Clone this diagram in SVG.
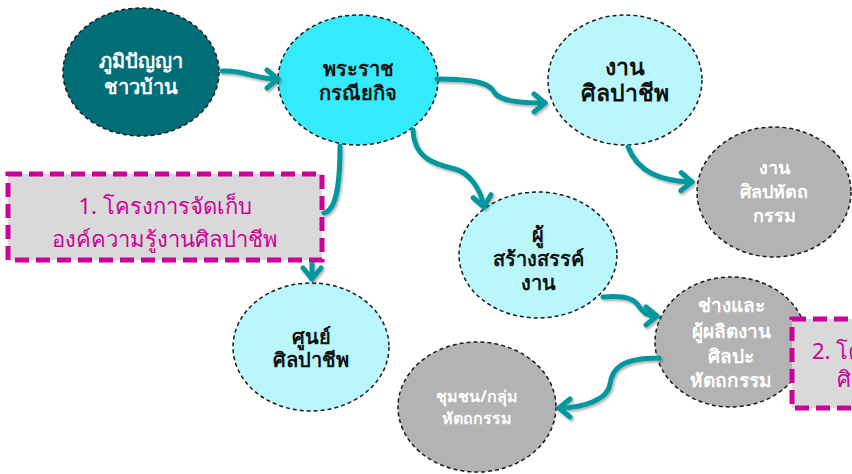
<svg xmlns="http://www.w3.org/2000/svg" width="852" height="474" viewBox="0 0 852 474">
<style>
.node{stroke:#1a1a1a;stroke-width:1.5;stroke-dasharray:4 3}
.t{font-family:"Noto Sans","Noto Sans CJK SC","DejaVu Sans",sans-serif;text-anchor:middle;dominant-baseline:central}
.b{font-weight:bold}
.w{fill:#ffffff}
.k{fill:#111111}
.m{fill:#cc0099}
.box{fill:#d9d9d9;stroke:#cc0099;stroke-width:5;stroke-dasharray:14 7}
.c{fill:none;stroke:#00979f;stroke-width:5;stroke-linecap:round}
</style>
<defs>
<filter id="sh" x="-20%" y="-20%" width="140%" height="140%">
<feDropShadow dx="1.5" dy="2" stdDeviation="1.2" flood-color="#000" flood-opacity="0.3"/>
</filter>
<marker id="ah" markerUnits="userSpaceOnUse" viewBox="-14 -12 18 24" refX="0" refY="0" markerWidth="18" markerHeight="24" orient="auto">
<path d="M-11,-9 L0,0 L-11,9" fill="none" stroke="#00979f" stroke-width="5" stroke-linecap="round" stroke-linejoin="round"/>
</marker>
</defs>
<rect width="852" height="474" fill="#ffffff"/>
<g id="n1"><ellipse class="node" cx="141" cy="72" rx="78" ry="64" fill="#006d77"/>
<text class="t b w" x="141" y="60" font-size="20">ภูมิปัญญา</text>
<text class="t b w" x="141" y="86" font-size="20">ชาวบ้าน</text></g>
<g id="n2"><ellipse class="node" cx="358" cy="80" rx="80" ry="65" fill="#33ebfb"/>
<text class="t b k" x="358" y="68" font-size="20">พระราช</text>
<text class="t b k" x="358" y="92" font-size="20">กรณียกิจ</text></g>
<g id="n3"><ellipse class="node" cx="625" cy="80" rx="77" ry="65" fill="#b9f7fc"/>
<text class="t b k" x="625" y="66" font-size="23">งาน</text>
<text class="t b k" x="625" y="92" font-size="23">ศิลปาชีพ</text></g>
<g id="n4"><ellipse class="node" cx="774" cy="192" rx="77" ry="65" fill="#b3b3b3"/>
<text class="t b w" x="774" y="167" font-size="18">งาน</text>
<text class="t b w" x="774" y="191" font-size="18">ศิลปหัตถ</text>
<text class="t b w" x="774" y="215" font-size="18">กรรม</text></g>
<g id="n5"><ellipse class="node" cx="538" cy="255" rx="79" ry="63" fill="#b9f7fc"/>
<text class="t b k" x="538" y="234" font-size="20">ผู้</text>
<text class="t b k" x="538" y="258" font-size="20">สร้างสรรค์</text>
<text class="t b k" x="538" y="282" font-size="20">งาน</text></g>
<g id="n6"><ellipse class="node" cx="311" cy="347" rx="78" ry="64" fill="#b9f7fc"/>
<text class="t b k" x="311" y="336" font-size="20">ศูนย์</text>
<text class="t b k" x="311" y="359" font-size="20">ศิลปาชีพ</text></g>
<g id="n7"><ellipse class="node" cx="731" cy="342" rx="76" ry="65" fill="#b3b3b3"/>
<text class="t b w" x="731" y="305" font-size="19">ช่างและ</text>
<text class="t b w" x="731" y="331" font-size="19">ผู้ผลิตงาน</text>
<text class="t b w" x="731" y="356" font-size="19">ศิลปะ</text>
<text class="t b w" x="731" y="380" font-size="19">หัตถกรรม</text></g>
<g id="n8"><ellipse class="node" cx="477" cy="407" rx="79" ry="65" fill="#b3b3b3"/>
<text class="t b w" x="477" y="396" font-size="16">ชุมชน/กลุ่ม</text>
<text class="t b w" x="477" y="418" font-size="16">หัตถกรรม</text></g>
<g id="box1"><rect class="box" x="8" y="174" width="314" height="86"/>
<text class="t m" x="165" y="205" font-size="22">1. โครงการจัดเก็บ</text>
<text class="t m" x="165" y="238" font-size="22">องค์ความรู้งานศิลปาชีพ</text></g>
<g id="box2"><rect class="box" x="792" y="319" width="90" height="89"/>
<text class="t m" x="812" y="350" font-size="22" style="text-anchor:start">2. โครงการ</text>
<text class="t m" x="837" y="378" font-size="22" style="text-anchor:start">ศิลปาชีพ</text></g>
<g id="connectors" filter="url(#sh)">
<path class="c" d="M222,71 C248,70 252,79 278,79" marker-end="url(#ah)"/>
<path class="c" d="M437,79 C478,79 490,84 494,92 C499,101 520,103 545,103" marker-end="url(#ah)"/>
<path class="c" d="M628,147 C638,172 660,181 692,182" marker-end="url(#ah)"/>
<path class="c" d="M413,130 C414,160 438,165 455,169 C470,173 481,190 484,207" marker-end="url(#ah)"/>
<path class="c" d="M340,146 C340,186 336,210 324,213"/>
<path class="c" d="M312,264 L312,279" marker-end="url(#ah)"/>
<path class="c" d="M603,297 C624,295 634,299 638,305 C643,313 648,316 657,316" marker-end="url(#ah)"/>
<path class="c" d="M659,358 C621,358 612,369 610,384 C608,400 582,408 559,408" marker-end="url(#ah)"/>
</g>
</svg>
